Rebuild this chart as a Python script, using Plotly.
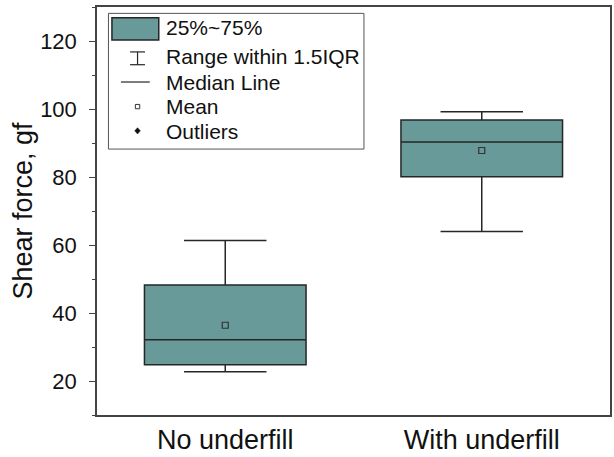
import plotly.graph_objects as go

# ---- data ----
categories = ["No underfill", "With underfill"]
q1 = [24.8, 80.1]
median = [32.1, 90.3]
q3 = [48.2, 96.8]
lower_whisker = [22.7, 64.0]
upper_whisker = [61.3, 99.2]
means = [36.4, 87.8]
y_ticks = [20, 40, 60, 80, 100, 120]
legend_labels = ["25%~75%", "Range within 1.5IQR", "Median Line", "Mean", "Outliers"]

FILL = "#679a99"
LINE = "#262626"
FONT = "Liberation Sans, Arial, sans-serif"

W, H = 614, 457
ML, MR, MT, MB = 97, 2, 7, 35
PW, PH = W - ML - MR, H - MT - MB


def px(x):
    return (x - ML) / PW


def py(y):
    return (H - MB - y) / PH


fig = go.Figure()
fig.add_trace(go.Box(
    x=categories, q1=q1, median=median, q3=q3,
    lowerfence=lower_whisker, upperfence=upper_whisker,
    fillcolor=FILL, line=dict(color=LINE, width=1.5),
    width=0.63, whiskerwidth=0.51, boxpoints=False, showlegend=False,
    hoverinfo="skip",
))
fig.add_trace(go.Scatter(
    x=categories, y=means, mode="markers",
    marker=dict(symbol="square-open", size=6, color="#333333", line=dict(width=1.2)),
    showlegend=False, hoverinfo="skip",
))

# ---- hand-built legend (Origin style) ----
shapes = []
annotations = []
shapes.append(dict(type="rect", xref="paper", yref="paper",
                   x0=px(108.5), x1=px(365), y0=py(151.5), y1=py(13.5),
                   line=dict(color="#555555", width=1), fillcolor="white", layer="above"))
shapes.append(dict(type="rect", xref="paper", yref="paper",
                   x0=px(112), x1=px(159), y0=py(40.5), y1=py(18),
                   line=dict(color=LINE, width=1.5), fillcolor=FILL, layer="above"))
cx = 137.7
# I-beam
for (a, b, c, d) in [(cx, 52.7, cx, 65.7), (cx - 7.5, 52.7, cx + 7.5, 52.7), (cx - 7.5, 65.7, cx + 7.5, 65.7)]:
    shapes.append(dict(type="line", xref="paper", yref="paper",
                       x0=px(a), y0=py(b), x1=px(c), y1=py(d),
                       line=dict(color=LINE, width=1.2), layer="above"))
# median line
shapes.append(dict(type="line", xref="paper", yref="paper",
                   x0=px(121), y0=py(83.3), x1=px(150), y1=py(83.3),
                   line=dict(color=LINE, width=1.2), layer="above"))
# mean square
shapes.append(dict(type="rect", xref="paper", yref="paper",
                   x0=px(cx - 2.2), x1=px(cx + 2.2), y0=py(110.5), y1=py(106.1),
                   line=dict(color="#333333", width=1), fillcolor="white", layer="above"))
# outlier diamond
dy = 133.0
path = "M {} {} L {} {} L {} {} L {} {} Z".format(
    px(cx), py(dy - 3.2), px(cx + 2.8), py(dy), px(cx), py(dy + 3.2), px(cx - 2.8), py(dy))
shapes.append(dict(type="path", xref="paper", yref="paper", path=path,
                   fillcolor="#111111", line=dict(color="#111111", width=0.5), layer="above"))

row_y = [28.3, 57.7, 83.3, 108.3, 133.3]
for lab, ry in zip(legend_labels, row_y):
    annotations.append(dict(text=lab, xref="paper", yref="paper", x=px(164), y=py(ry),
                            xanchor="left", yanchor="middle", showarrow=False,
                            font=dict(family=FONT, size=21, color="#111111")))

fig.update_layout(
    width=W, height=H,
    margin=dict(l=ML, r=MR, t=MT, b=MB),
    paper_bgcolor="white", plot_bgcolor="white",
    font=dict(family=FONT, color="#111111"),
    shapes=shapes, annotations=annotations,
    xaxis=dict(
        type="category", range=[-0.5, 1.5],
        showline=True, linecolor="#444444", linewidth=1.5, mirror=True,
        ticks="", showgrid=False, zeroline=False,
        tickfont=dict(size=27, family=FONT, color="#111111"),
    ),
    yaxis=dict(
        range=[10, 130], tickvals=y_ticks,
        showline=True, linecolor="#444444", linewidth=1.5, mirror=True,
        ticks="outside", ticklen=6, tickwidth=1.2, tickcolor="#444444",
        minor=dict(dtick=10, tick0=0, ticks="outside", ticklen=3.5, tickwidth=1, tickcolor="#444444", showgrid=False),
        ticklabelstandoff=8,
        showgrid=False, zeroline=False,
        tickfont=dict(size=22, family=FONT, color="#111111"),
        title=dict(text="Shear force, gf", font=dict(size=27, family=FONT, color="#111111"), standoff=0),
    ),
)

fig.write_html("out.html")
